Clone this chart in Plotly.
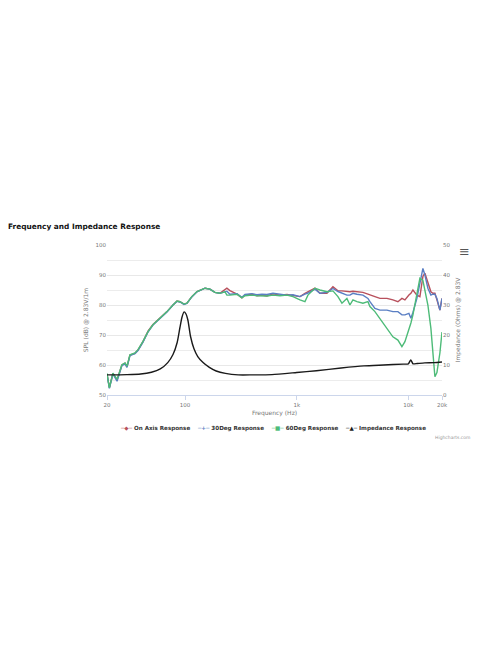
import plotly.graph_objects as go

# SPL frequency grid (Hz)
freq = [20, 21, 22.6, 24.6, 27.2, 29, 30.2, 32.1, 35.6, 37.9, 42, 46.6, 51.6, 59.7,
        68.9, 78, 84.7, 90.1, 97.8, 104, 115, 128, 151, 167, 185, 205, 228, 237,
        252, 292, 323, 344, 397, 440, 488, 541, 613, 708, 818, 926, 1069, 1185,
        1260, 1456, 1614, 1865, 2110, 2340, 2540, 2815, 2995, 3188, 3461, 3917,
        4342, 4525, 5017, 5563, 6424, 7267, 8058, 8752, 9310, 10110, 10535,
        10980, 11920, 12680, 13490, 14060, 14950, 15910, 16580, 17280, 18010,
        19150, 20000]

on_axis = [57, 52.5, 57.2, 55, 60, 60.6, 59.4, 63.3, 63.9, 65, 67.8, 71.3, 73.5, 75.6,
           77.8, 80, 81.3, 81.1, 80.3, 80.6, 82.8, 84.5, 85.6, 85.3, 84.2, 83.9, 85.2, 85.6,
           84.8, 83.6, 82.4, 83.3, 83.6, 83.1, 83.3, 83.0, 83.7, 83.3, 83.5, 83.1, 82.8, 83.9,
           84.4, 85.6, 83.9, 83.9, 86.1, 84.7, 84.7, 84.4, 84.4, 84.6, 84.4, 84.2,
           83.6, 83.3, 82.8, 82.2, 82.2, 81.7, 81.1, 82.2, 81.7, 83.3, 83.9,
           85, 83.3, 82.8, 89.5, 90.6, 87.8, 84.4, 83.9, 83.9, 81.7,
           78.3, 82.2]

deg30 = [56.8, 52.2, 57.0, 54.6, 59.8, 60.4, 59.2, 63.1, 63.8, 64.8, 67.6, 71.0, 73.3, 75.5,
         77.7, 80, 81.2, 81.0, 80.2, 80.5, 82.7, 84.4, 85.6, 85.3, 84.2, 83.9, 84.4, 84.6,
         83.6, 83.8, 82.6, 83.5, 83.8, 83.4, 83.6, 83.5, 83.9, 83.5, 83.3, 83.4, 82.8, 83.6,
         84.0, 85.3, 83.9, 84.2, 85.5, 84.5, 84.0, 83.3, 83.3, 83.9, 83.6, 83.3,
         82.2, 81.1, 78.9, 78.3, 78.3, 77.8, 77.8, 76.7, 76.7, 77.2, 75.6,
         77.5, 82.2, 87.8, 92.2, 90, 85.6, 83.3, 83.6, 83.6, 82.2,
         78.3, 82.2]

deg60 = [57.2, 52.4, 57.3, 55.2, 60.1, 60.7, 59.6, 63.4, 64.0, 65.1, 67.9, 71.1, 73.4, 75.6,
         77.8, 80, 81.3, 81.1, 80.3, 80.6, 82.8, 84.5, 85.6, 85.3, 84.2, 83.9, 84.4, 83.3,
         83.3, 83.6, 82.4, 83.1, 83.3, 83.1, 83.1, 83.0, 83.3, 83.1, 83.3, 82.8, 81.7, 81.1,
         83.3, 85.6, 85, 84.4, 84.7, 82.8, 80.6, 82.2, 80, 81.7, 81.1, 80.6,
         81.1, 79.5, 77.8, 75.5, 72.5, 69.4, 68.3, 66.1, 67.8, 71.7, 74,
         76.7, 84.4, 88.9, 88.2, 85, 80, 72.2, 63.3, 56.1, 57.5,
         64, 71]

# impedance curve (Ohms)
imp_freq = [20, 30, 40, 50, 60, 70, 78, 85, 90, 94, 98, 102, 106, 112, 120, 130, 145,
            165, 190, 230, 300, 400, 600, 1000, 1500, 2500, 4000, 6000, 9000, 10000,
            10500, 11000, 12000, 14000, 17000, 20000]
impedance = [6.7, 6.8, 7.0, 7.6, 8.7, 10.8, 13.5, 17.5, 22.5, 26, 27.7, 27, 25, 19.5,
             15.5, 12.8, 10.8, 9.2, 8.0, 7.2, 6.7, 6.7, 6.8, 7.5, 8.1, 9.0, 9.7, 10.0,
             10.3, 10.4, 11.7, 10.4, 10.5, 10.7, 10.8, 11.0]

names = ["On Axis Response", "30Deg Response", "60Deg Response", "Impedance Response"]
colors = ["#b8505c", "#5a7fc4", "#4dbb78", "#1a1a1a"]
symbols = ["◆", "+", "■", "▲"]

font = "DejaVu Sans"
grey = "#777777"

fig = go.Figure()
for vals, name, col in zip([on_axis, deg30, deg60], names[:3], colors[:3]):
    fig.add_trace(go.Scatter(x=freq, y=vals, mode="lines", name=name,
                             line=dict(color=col, width=1.4), showlegend=False))
fig.add_trace(go.Scatter(x=imp_freq, y=impedance, mode="lines", name=names[3],
                         line=dict(color=colors[3], width=1.4, shape="spline", smoothing=0.6),
                         yaxis="y2", showlegend=False))

# Highcharts-like legend as one line of styled text
legend_parts = []
for name, col, sym in zip(names, colors, symbols):
    legend_parts.append(f"<span style='color:{col}'>─{sym}─</span> {name}")
legend_text = "<b>" + "\u00a0\u00a0\u00a0\u00a0".join(legend_parts) + "</b>"

fig.update_layout(
    width=496, height=664,
    margin=dict(l=99, r=62, t=237, b=277),
    paper_bgcolor="white", plot_bgcolor="white",
    showlegend=False,
    font=dict(family=font, size=6, color=grey),
    title=dict(text="<b>Frequency and Impedance Response</b>", x=0.0, xanchor="left",
               y=1 - 218 / 664, yanchor="middle",
               font=dict(family=font, size=7.4, color="#111111")),
    xaxis=dict(type="log", range=[1.30103, 4.30103],
               tickvals=[20, 100, 1000, 10000, 20000],
               ticktext=["20", "100", "1k", "10k", "20k"],
               showgrid=False, zeroline=False,
               showline=True, linecolor="#ccd6eb", linewidth=1,
               ticks="outside", ticklen=4, tickcolor="#ccd6eb",
               tickfont=dict(size=5.5, color=grey),
               title=dict(text="Frequency (Hz)", font=dict(size=6, color=grey), standoff=4)),
    yaxis=dict(range=[50, 100], dtick=10, showgrid=True, gridcolor="#e8e8e8",
               minor=dict(dtick=5, showgrid=True, gridcolor="#ececec"),
               zeroline=False, tickfont=dict(size=5.5, color=grey),
               title=dict(text="SPL (dB) @ 2.83V/1m", font=dict(size=6, color=grey), standoff=6)),
    yaxis2=dict(range=[0, 50], dtick=10, overlaying="y", side="right", showgrid=False,
                zeroline=False, tickfont=dict(size=5.5, color=grey),
                title=dict(text="Impedance (Ohms) @ 2.83V", font=dict(size=6, color=grey), standoff=6)),
    annotations=[
        dict(text=legend_text, xref="paper", yref="paper", x=0.495, y=-0.22,
             xanchor="center", yanchor="middle", showarrow=False,
             font=dict(family=font, size=5.6, color="#333333")),
        dict(text="Highcharts.com", xref="paper", yref="paper", x=1.09, y=-0.28,
             xanchor="right", yanchor="middle", showarrow=False,
             font=dict(size=4.5, color="#999999")),
        dict(text="≡", xref="paper", yref="paper", x=1.066, y=0.96,
             xanchor="center", yanchor="middle", showarrow=False,
             font=dict(size=13, color="#555555")),
    ],
)

fig.write_html("out.html")
